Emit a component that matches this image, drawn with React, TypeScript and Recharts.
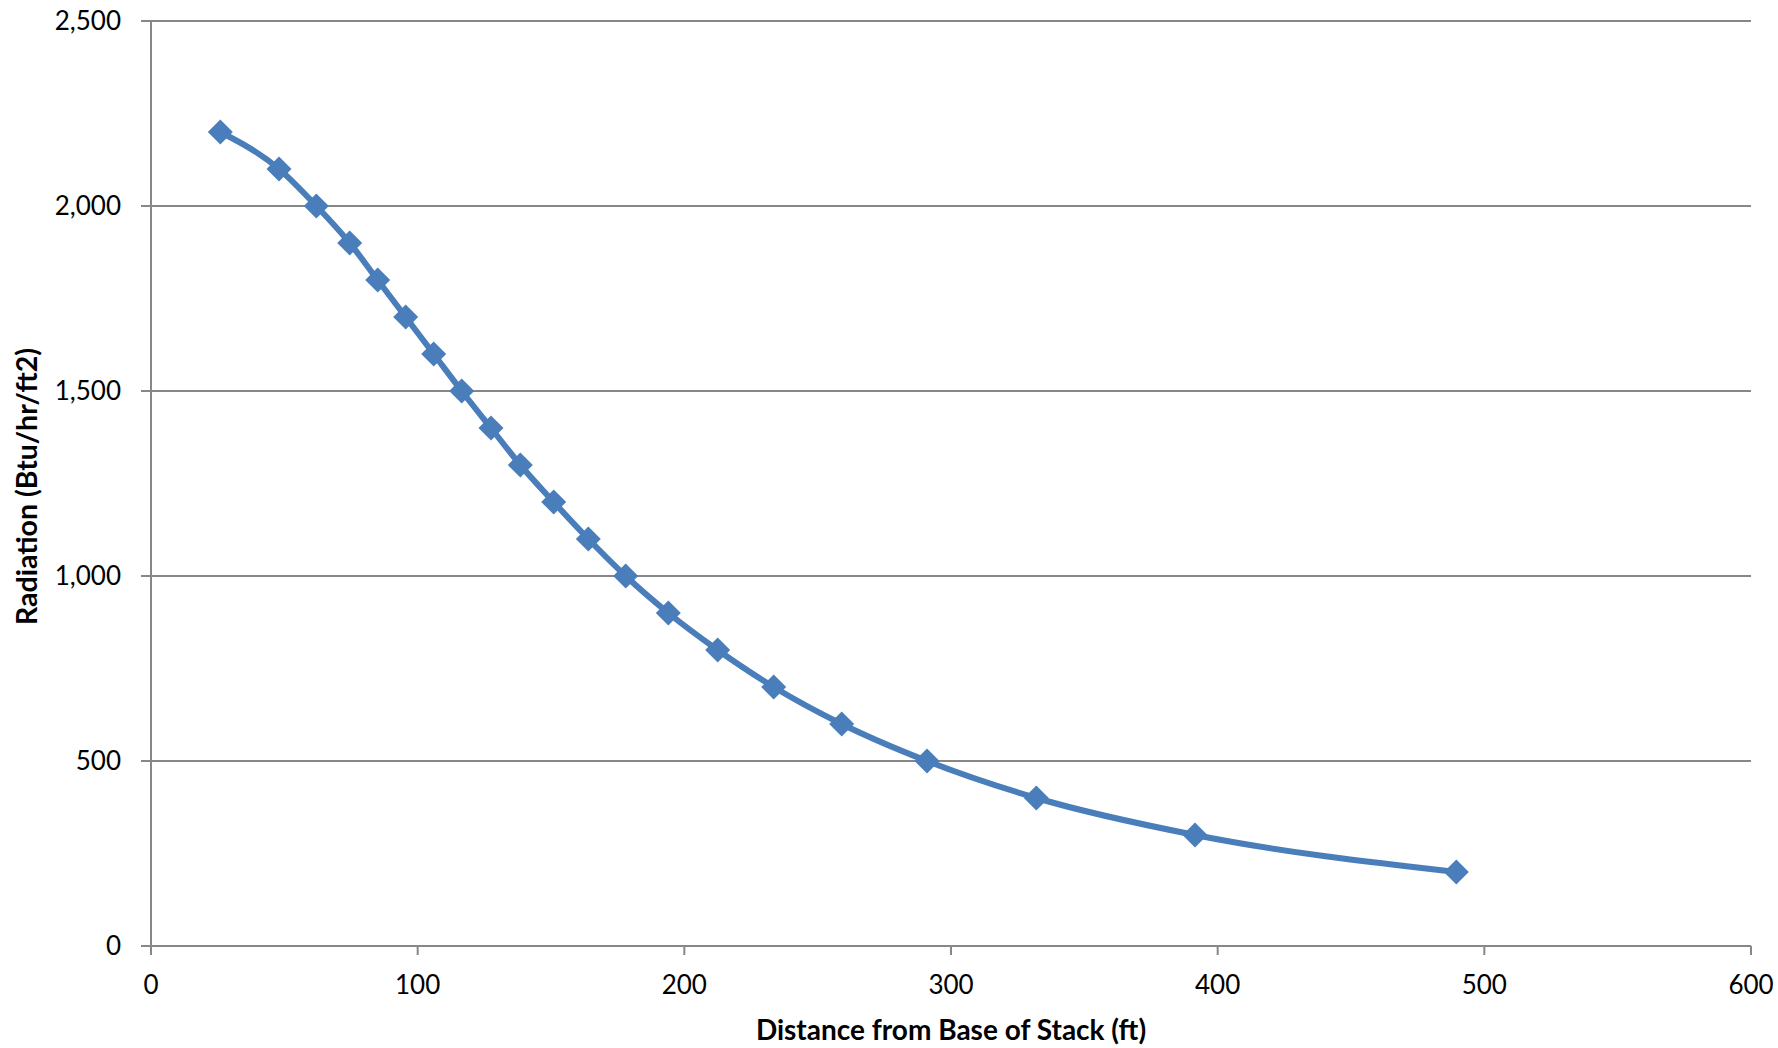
import React from 'react'
import { LineChart, Line, XAxis, YAxis, CartesianGrid, Label } from 'recharts'

// distance from base of stack (ft) and radiation (Btu/hr/ft2)
const distances = [26, 48, 62, 74.5, 85, 95.5, 106, 116.5, 127.5, 138.5, 151, 164, 178, 194, 212.5, 233.5, 259, 291, 332, 391.5, 489.5]
const radiation = [2200, 2100, 2000, 1900, 1800, 1700, 1600, 1500, 1400, 1300, 1200, 1100, 1000, 900, 800, 700, 600, 500, 400, 300, 200]

const xTicks = [0, 100, 200, 300, 400, 500, 600]
const yTicks = [0, 500, 1000, 1500, 2000, 2500]

const data = distances.map((d, i) => ({ distance: d, radiation: radiation[i] }))

const BLUE = '#4A7EBB'
const GRAY = '#878787'
const FONT = 'Lato, "Open Sans", sans-serif'

function Diamond(props: any) {
  const { cx, cy } = props
  if (cx == null || cy == null) return null
  const r = 12.5
  return (
    <polygon
      points={`${cx},${cy - r} ${cx + r},${cy} ${cx},${cy + r} ${cx - r},${cy}`}
      fill={BLUE}
    />
  )
}

export default function App() {
  return (
    <div style={{ position: 'absolute', left: 0, top: 0, width: 1778, height: 1048, background: '#fff' }}>
      <LineChart
        width={1778}
        height={1048}
        data={data}
        margin={{ top: 21, right: 27, left: 0, bottom: 0 }}
        style={{ fontFamily: FONT }}
      >
        <CartesianGrid vertical={false} stroke={GRAY} strokeWidth={2} />
        <XAxis
          type="number"
          dataKey="distance"
          domain={[0, 600]}
          ticks={xTicks}
          height={102}
          axisLine={{ stroke: GRAY, strokeWidth: 2 }}
          tickLine={{ stroke: GRAY, strokeWidth: 2 }}
          tickSize={9}
          tickMargin={21}
          tick={{ fill: '#000', fontSize: 26, fontFamily: FONT }}
        >
          <Label
            value="Distance from Base of Stack (ft)"
            position="insideBottom"
            offset={8}
            style={{ fill: '#000', fontSize: 28, fontWeight: 700, fontFamily: FONT }}
          />
        </XAxis>
        <YAxis
          type="number"
          domain={[0, 2500]}
          ticks={yTicks}
          width={151}
          axisLine={{ stroke: GRAY, strokeWidth: 2 }}
          tickLine={{ stroke: GRAY, strokeWidth: 2 }}
          tickSize={10}
          tickMargin={20}
          tickFormatter={(v) => v.toLocaleString('en-US')}
          tick={{ fill: '#000', fontSize: 26, fontFamily: FONT }}
        >
          <Label
            content={(p: any) => {
              const vb = p.viewBox
              const cy = vb.y + vb.height / 2 + 3
              return (
                <text
                  x={37}
                  y={cy}
                  transform={`rotate(-90 37 ${cy})`}
                  textAnchor="middle"
                  style={{ fill: '#000', fontSize: 28.5, fontWeight: 700, fontFamily: FONT }}
                >
                  Radiation (Btu/hr/ft2)
                </text>
              )
            }}
          />
        </YAxis>
        <Line
          type="monotone"
          dataKey="radiation"
          stroke={BLUE}
          strokeWidth={6}
          dot={<Diamond />}
          activeDot={false}
          isAnimationActive={false}
        />
      </LineChart>
    </div>
  )
}
